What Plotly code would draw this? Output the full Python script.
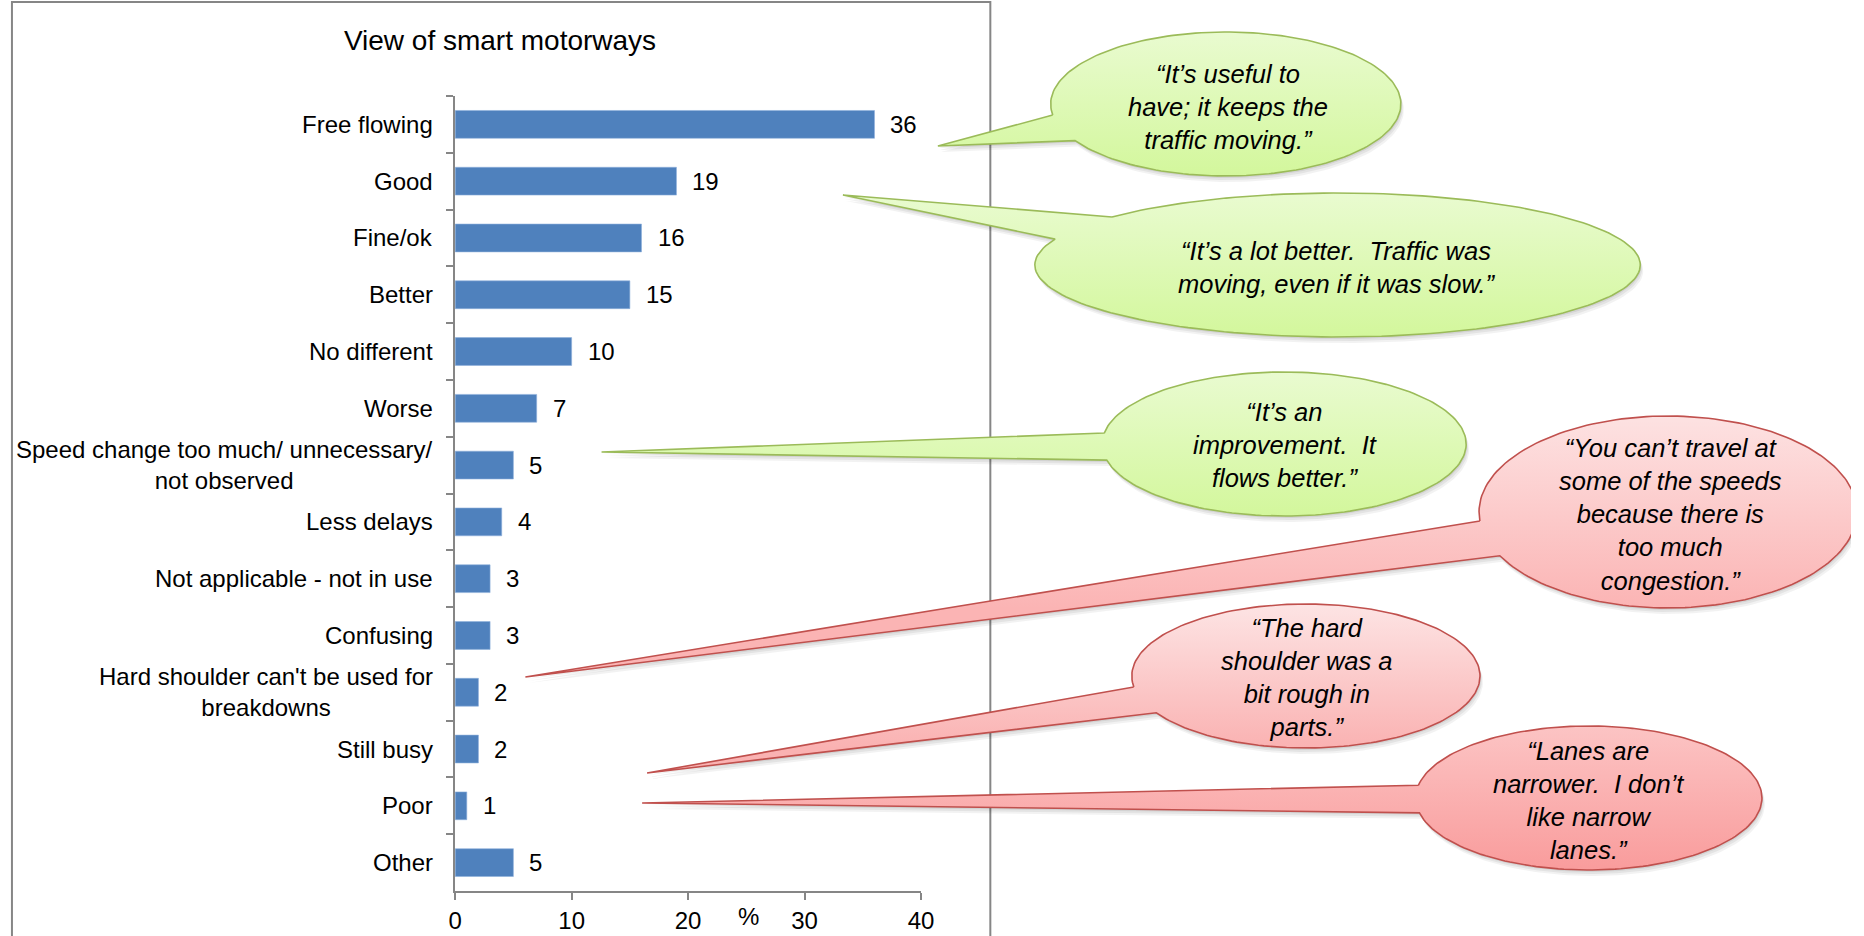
import numpy as np
import plotly.graph_objects as go

# ---- chart data -------------------------------------------------------------
categories = [
    "Free flowing",
    "Good",
    "Fine/ok",
    "Better",
    "No different",
    "Worse",
    "Speed change too much/ unnecessary/<br>not observed",
    "Less delays",
    "Not applicable - not in use",
    "Confusing",
    "Hard shoulder can't be used for<br>breakdowns",
    "Still busy",
    "Poor",
    "Other",
]
values = [36, 19, 16, 15, 10, 7, 5, 4, 3, 3, 2, 2, 1, 5]
x_tick_values = [0, 10, 20, 30, 40]
chart_title = "View of smart motorways"
x_axis_label = "%"

quotes = [
    "“It’s useful to<br>have; it keeps the<br>traffic moving.”",
    "“It’s a lot better.\u00a0 Traffic was<br>moving, even if it was slow.”",
    "“It’s an<br>improvement.\u00a0 It<br>flows better.”",
    "“You can’t travel at<br>some of the speeds<br>because there is<br>too much<br>congestion.”",
    "“The hard<br>shoulder was a<br>bit rough in<br>parts.”",
    "“Lanes are<br>narrower.\u00a0 I don’t<br>like narrow<br>lanes.”",
]
quote_tone = ["positive", "positive", "positive", "negative", "negative", "negative"]

# ---- page geometry (pixels) -------------------------------------------------
W, H = 1864, 936
FONT = "Liberation Sans, Arial, Helvetica, sans-serif"
BAR_COLOR = "#4f81bd"
AXIS_GREY = "#868686"

plot_left, plot_right = 453, 924
plot_top, plot_bottom = 96, 891

# callout bubbles: ellipse centre/radii, two tail base points, tail tip, text centre
callouts = [
    dict(c=(1232, 104), r=(177, 72), b1=(1058, 115), b2=(1082, 140), tip=(941, 146), t=(1234, 107)),
    dict(c=(1345, 265), r=(306, 72), b1=(1117, 217), b2=(1058, 239), tip=(845, 195), t=(1344, 267)),
    dict(c=(1291, 444), r=(184, 72), b1=(1109, 433), b2=(1113, 460), tip=(601, 452), t=(1292, 445)),
    dict(c=(1679, 512), r=(191, 96), b1=(1489, 521), b2=(1508, 556), tip=(524, 677), t=(1682, 514)),
    dict(c=(1313, 676), r=(176, 72), b1=(1138, 687), b2=(1161, 713), tip=(647, 773), t=(1314, 677)),
    dict(c=(1599, 798), r=(175, 72), b1=(1424, 785), b2=(1426, 813), tip=(642, 803), t=(1599, 800)),
]
tone_style = {
    "positive": dict(line="#9bbb59", fills=[("#e9fbd0", "#d3f79c")] * 3),
    "negative": dict(line="#c0504d", fills=[("#fde2e2", "#fbb4b4"),
                                            ("#fde4e4", "#fab2b2"),
                                            ("#fcc4c4", "#f99c9c")]),
}


def bubble_outline(c, r, b1, b2, tip, n=180):
    """Ellipse outline with a wedge-shaped tail running out to `tip`."""
    cx, cy = c
    rx, ry = r
    t1 = np.arctan2((b1[1] - cy) / ry, (b1[0] - cx) / rx)
    t2 = np.arctan2((b2[1] - cy) / ry, (b2[0] - cx) / rx)
    d = np.angle(np.exp(1j * (t1 - t2)))
    ts = t2 - np.sign(d) * np.linspace(0, 2 * np.pi - abs(d), n)
    xs = [cx + rx * np.cos(t1), tip[0]] + list(cx + rx * np.cos(ts))
    ys = [cy + ry * np.sin(t1), tip[1]] + list(cy + ry * np.sin(ts))
    return np.array(xs), np.array(ys)


fig = go.Figure()

# ---- bar chart ---------------------------------------------------------------
fig.add_trace(go.Bar(
    x=values, y=categories, orientation="h",
    marker=dict(color=BAR_COLOR, line=dict(width=0.6, color="#8fb0dc")),
    hoverinfo="skip", xaxis="x", yaxis="y",
))

# ---- speech bubbles (drawn on a full-page pixel grid) -----------------------
tone_count = {"positive": 0, "negative": 0}
for cfg, tone in zip(callouts, quote_tone):
    style = tone_style[tone]
    top_c, bot_c = style["fills"][tone_count[tone]]
    tone_count[tone] += 1
    xs, ys = bubble_outline(cfg["c"], cfg["r"], cfg["b1"], cfg["b2"], cfg["tip"])
    # soft drop shadow
    for dx, dy, a in [(1, 2, 0.07), (2, 4, 0.06), (3, 6, 0.05)]:
        fig.add_trace(go.Scatter(
            x=xs + dx, y=ys + dy, mode="lines", fill="toself",
            fillcolor=f"rgba(0,0,0,{a})", line=dict(width=0),
            hoverinfo="skip", xaxis="x2", yaxis="y2",
        ))
    cy, ry = cfg["c"][1], cfg["r"][1]
    fig.add_trace(go.Scatter(
        x=xs, y=ys, mode="lines", fill="toself",
        fillgradient=dict(type="vertical", colorscale=[[0, top_c], [1, bot_c]],
                          start=cy - ry, stop=cy + ry),
        line=dict(color=style["line"], width=1.6),
        hoverinfo="skip", xaxis="x2", yaxis="y2",
    ))

annotations = []
for cfg, text in zip(callouts, quotes):
    annotations.append(dict(
        x=cfg["t"][0], y=cfg["t"][1], xref="x2", yref="y2",
        text=f"<i>{text}</i>", showarrow=False, align="center",
        xanchor="center", yanchor="middle",
        font=dict(family=FONT, size=25.5, color="#000000"),
    ))

# category labels (centred multi-line like the spreadsheet labels)
for cat in categories:
    annotations.append(dict(
        x=0, y=cat, xref="x", yref="y", text=cat, showarrow=False,
        xanchor="right", yanchor="middle", align="center", xshift=-20,
        font=dict(family=FONT, size=24, color="#000000"),
    ))

# value labels at the end of each bar
for cat, v in zip(categories, values):
    annotations.append(dict(
        x=v, y=cat, xref="x", yref="y", text=str(v), showarrow=False,
        xanchor="left", yanchor="middle", xshift=14,
        font=dict(family=FONT, size=24, color="#000000"),
    ))

# x-axis unit label sitting among the tick labels
annotations.append(dict(
    x=25.2, y=1 - 916 / H, xref="x", yref="paper", text=x_axis_label,
    showarrow=False, xanchor="center", yanchor="middle",
    font=dict(family=FONT, size=24, color="#000000"),
))

fig.update_layout(
    width=W, height=H,
    margin=dict(l=0, r=0, t=0, b=0),
    paper_bgcolor="white", plot_bgcolor="rgba(0,0,0,0)",
    showlegend=False, hovermode=False,
    bargap=0.51,
    title=dict(text=chart_title, x=500 / W, xanchor="center",
               y=1 - 40 / H, yanchor="middle",
               font=dict(family=FONT, size=28, color="#000000")),
    xaxis=dict(
        domain=[plot_left / W, plot_right / W], range=[0, 40],
        tickvals=x_tick_values, showgrid=False, zeroline=False,
        showline=True, linecolor=AXIS_GREY, linewidth=1.5,
        ticks="outside", ticklen=7, tickcolor=AXIS_GREY, tickwidth=1.5,
        tickfont=dict(family=FONT, size=24, color="#000000"),
        anchor="y", fixedrange=True,
    ),
    yaxis=dict(
        domain=[1 - plot_bottom / H, 1 - plot_top / H],
        type="category", categoryorder="array", categoryarray=categories,
        range=[len(categories) - 0.5, -0.5],
        showticklabels=False, showgrid=False, zeroline=False,
        showline=True, linecolor=AXIS_GREY, linewidth=1.5,
        ticks="outside", tickson="boundaries", ticklen=7,
        tickcolor=AXIS_GREY, tickwidth=1.5,
        anchor="x", fixedrange=True,
    ),
    xaxis2=dict(domain=[0, 1], range=[0, W], visible=False, anchor="y2", fixedrange=True),
    yaxis2=dict(domain=[0, 1], range=[H, 0], visible=False, anchor="x2", fixedrange=True),
    annotations=annotations,
    shapes=[dict(type="rect", xref="x2", yref="y2", x0=5, x1=994, y0=2, y1=H + 20,
                 line=dict(color=AXIS_GREY, width=2), fillcolor="rgba(0,0,0,0)",
                 layer="below")],
)

fig.write_html("out.html")
